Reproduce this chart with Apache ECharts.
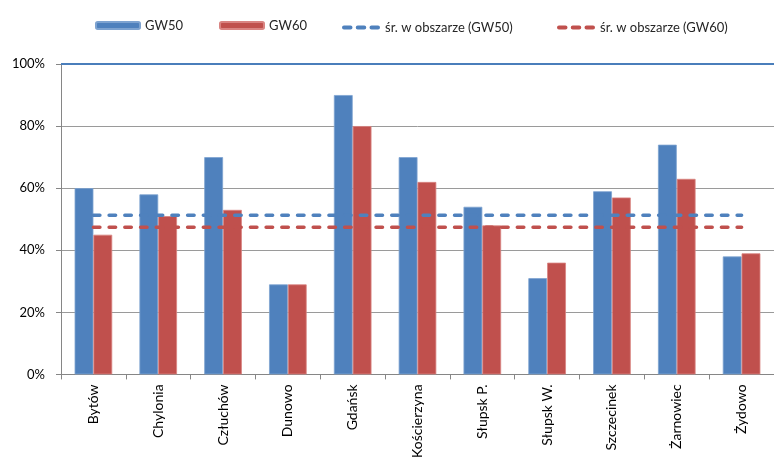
<!DOCTYPE html>
<html>
<head>
<meta charset="utf-8">
<script src="https://cdn.jsdelivr.net/npm/echarts@6/dist/echarts.min.js"></script>
<style>
  html, body { margin: 0; padding: 0; background: #fff; }
  #chart { width: 774px; height: 461px; }
</style>
</head>
<body>
<div id="chart"></div>
<script>
// Stations
const categories = ['Bytów', 'Chylonia', 'Człuchów', 'Dunowo', 'Gdańsk', 'Kościerzyna',
  'Słupsk P.', 'Słupsk W.', 'Szczecinek', 'Żarnowiec', 'Żydowo'];

// Share per station, in percent
const gw50 = [60, 58, 70, 29, 90, 70, 54, 31, 59, 74, 38];
const gw60 = [45, 51, 53, 29, 80, 62, 48, 36, 57, 63, 39];

// Area averages, one value per station so the line runs across the whole axis
const avgGw50 = [51.3, 51.3, 51.3, 51.3, 51.3, 51.3, 51.3, 51.3, 51.3, 51.3, 51.3];
const avgGw60 = [47.4, 47.4, 47.4, 47.4, 47.4, 47.4, 47.4, 47.4, 47.4, 47.4, 47.4];

// Value axis ticks
const yMin = 0, yMax = 100, yStep = 20;

const BLUE = '#4F81BD';
const RED = '#C0504D';
const GRID_GRAY = '#9A9A9A';
const FONT = 'Lato';

const chart = echarts.init(document.getElementById('chart'), null, { renderer: 'canvas' });

const legendText = { fontFamily: FONT, fontSize: 13, color: '#262626' };

// Three rounded dashes, used as the legend key of the average lines
function roundDash(x, len) {
  return 'M' + (x + 2) + ',0 h' + (len - 4) + ' a2,2 0 0 1 0,4 h' + (4 - len) + ' a2,2 0 0 1 0,-4 z ';
}
const dashIcon = 'path://' + roundDash(0, 10.5) + roundDash(13.75, 10.5) + roundDash(27.5, 10.5);

function legendAt(name, left, w, h, icon) {
  const l = {
    data: [name], left: left, top: h === 7 ? 14 : 16, itemWidth: w, itemHeight: h, itemGap: 6,
    textStyle: legendText, selectedMode: false
  };
  if (icon) l.icon = icon;
  return l;
}

const dash = [6.5, 9.2];

chart.setOption({
  animation: false,
  textStyle: { fontFamily: FONT },
  legend: [
    legendAt('GW50', 90, 44, 7),
    legendAt('GW60', 214, 44, 7),
    legendAt('śr. w obszarze (GW50)', 337, 38, 4, dashIcon),
    legendAt('śr. w obszarze (GW60)', 552, 38, 4, dashIcon)
  ],
  grid: { left: 61, top: 64, width: 715, height: 313, containLabel: false },
  xAxis: {
    type: 'category',
    data: categories,
    boundaryGap: true,
    axisLine: { lineStyle: { color: '#868686', width: 1 } },
    axisTick: { show: true, length: 5, alignWithLabel: false, lineStyle: { color: '#868686' } },
    axisLabel: {
      rotate: 90, margin: 10, interval: 0,
      fontFamily: FONT, fontSize: 14, color: '#000'
    },
    splitLine: { show: false }
  },
  yAxis: {
    type: 'value',
    min: yMin, max: yMax, interval: yStep,
    axisLine: { show: true, lineStyle: { color: '#868686', width: 1 } },
    axisTick: { show: true, length: 5, inside: false, lineStyle: { color: '#868686' } },
    axisLabel: {
      formatter: '{value}%', margin: 16,
      fontFamily: FONT, fontSize: 13, color: '#000'
    },
    splitLine: { show: true, lineStyle: { color: GRID_GRAY, width: 1 } }
  },
  series: [
    {
      name: 'GW50', type: 'bar', data: gw50,
      barGap: '0%', barCategoryGap: '42%',
      itemStyle: { color: BLUE, borderColor: '#7EA3D0', borderWidth: 0.8 },
      markLine: {
        silent: true, symbol: 'none', label: { show: false },
        lineStyle: { color: '#4A7EBB', width: 2, type: 'solid' },
        data: [{ yAxis: yMax }]
      }
    },
    {
      name: 'GW60', type: 'bar', data: gw60,
      barGap: '0%', barCategoryGap: '42%',
      itemStyle: { color: RED, borderColor: '#D98482', borderWidth: 0.8 }
    },
    {
      name: 'śr. w obszarze (GW50)', type: 'line', data: avgGw50,
      symbol: 'none', z: 5,
      itemStyle: { color: BLUE },
      lineStyle: { color: BLUE, width: 3.5, type: dash, cap: 'round' }
    },
    {
      name: 'śr. w obszarze (GW60)', type: 'line', data: avgGw60,
      symbol: 'none', z: 5,
      itemStyle: { color: RED },
      lineStyle: { color: RED, width: 3.5, type: dash, cap: 'round' }
    }
  ]
});
</script>
</body>
</html>
